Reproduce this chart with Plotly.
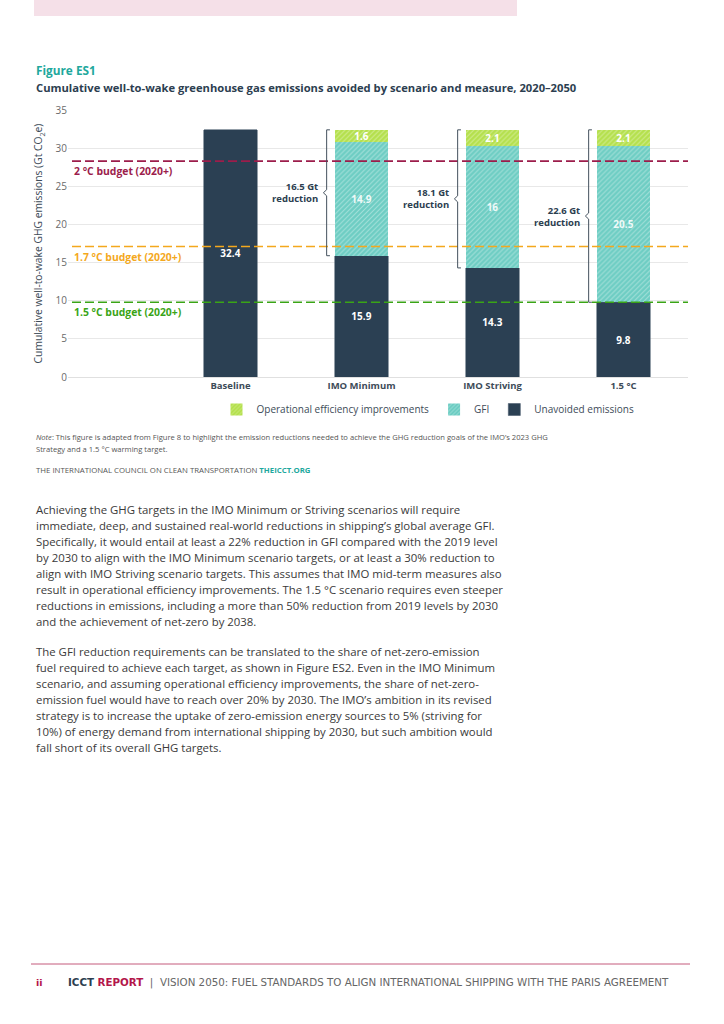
import plotly.graph_objects as go

# ---------------- data ----------------
categories = ["Baseline", "IMO Minimum", "IMO Striving", "1.5 °C"]
unavoided = [32.4, 15.9, 14.3, 9.8]
# GFI and operational-efficiency reductions exist only for the three scenarios
scenario_idx = [1, 2, 3]
gfi = [14.9, 16.0, 20.5]
op_eff = [1.6, 2.1, 2.1]
budget_names = ["2 °C budget (2020+)", "1.7 °C budget (2020+)", "1.5 °C budget (2020+)"]
budget_values = [28.3, 17.1, 9.8]
budget_colors = ["#9c1d4b", "#f4a81d", "#3aa416"]
y_ticks = [0, 5, 10, 15, 20, 25, 30, 35]

para1 = [
    "Achieving the GHG targets in the IMO Minimum or Striving scenarios will require",
    "immediate, deep, and sustained real-world reductions in shipping’s global average GFI.",
    "Specifically, it would entail at least a 22% reduction in GFI compared with the 2019 level",
    "by 2030 to align with the IMO Minimum scenario targets, or at least a 30% reduction to",
    "align with IMO Striving scenario targets. This assumes that IMO mid-term measures also",
    "result in operational efficiency improvements. The 1.5 °C scenario requires even steeper",
    "reductions in emissions, including a more than 50% reduction from 2019 levels by 2030",
    "and the achievement of net-zero by 2038.",
]
para2 = [
    "The GFI reduction requirements can be translated to the share of net-zero-emission",
    "fuel required to achieve each target, as shown in Figure ES2. Even in the IMO Minimum",
    "scenario, and assuming operational efficiency improvements, the share of net-zero-",
    "emission fuel would have to reach over 20% by 2030. The IMO’s ambition in its revised",
    "strategy is to increase the uptake of zero-emission energy sources to 5% (striving for",
    "10%) of energy demand from international shipping by 2030, but such ambition would",
    "fall short of its overall GHG targets.",
]

# ---------------- layout helpers ----------------
W, H = 724, 1024
FONT = "Open Sans"
DARK = "#2c3e50"
TEXT = "#3a3a3a"
PX_L, PX_R, PX_T, PX_B = 68, 688, 110, 377
xpos = list(range(len(categories)))
BAR_W = 0.405


def px(x):
    return x / W


def py(y):
    return 1 - y / H


fig = go.Figure()
fig.add_trace(go.Bar(
    x=xpos, y=unavoided, name="Unavoided emissions", width=BAR_W,
    marker=dict(color="#2b4053", line=dict(color="#4b5d6e", width=0.6)),
    text=[f"{v:g}" for v in unavoided], textposition="inside", insidetextanchor="middle",
    constraintext="none",
    textfont=dict(color="white", size=10, family=FONT, weight="bold"),
    hoverinfo="skip",
))
fig.add_trace(go.Bar(
    x=scenario_idx, y=gfi, name="GFI", width=BAR_W,
    marker=dict(color="#6dcdc3", line=dict(width=0),
                pattern=dict(shape="/", fgcolor="rgba(255,255,255,0.75)", size=3.5,
                             solidity=0.3, fillmode="overlay")),
    text=[f"{v:g}" for v in gfi], textposition="inside", insidetextanchor="middle",
    constraintext="none",
    textfont=dict(color="rgba(255,255,255,0.9)", size=10, family=FONT, weight="bold"),
    hoverinfo="skip",
))
fig.add_trace(go.Bar(
    x=scenario_idx, y=op_eff, name="Operational efficiency improvements", width=BAR_W,
    marker=dict(color="#b4e04c", line=dict(width=0),
                pattern=dict(shape="/", fgcolor="rgba(255,255,255,0.75)", size=3.5,
                             solidity=0.3, fillmode="overlay")),
    text=[f"{v:g}" for v in op_eff], textposition="inside", insidetextanchor="middle",
    constraintext="none",
    textfont=dict(color="white", size=10, family=FONT, weight="bold"),
    hoverinfo="skip",
))

shapes = []
annotations = []

# budget lines + labels
x_line0 = (72 - PX_L) / (PX_R - PX_L)
for name, val, col in zip(budget_names, budget_values, budget_colors):
    shapes.append(dict(type="line", xref="x domain", yref="y", x0=x_line0, x1=1,
                       y0=val, y1=val, line=dict(color=col, width=1.6, dash="9px,4px"),
                       layer="above"))
    annotations.append(dict(xref="x domain", yref="y", x=x_line0, y=val, yshift=-10,
                            xanchor="left", yanchor="middle", showarrow=False,
                            text=f"<b>{name}</b>", font=dict(color=col, size=10.4, family=FONT)))

# brackets
bx_off = 0.266
tick = 0.025
notch = 0.4
for j, i in enumerate(scenario_idx):
    top = unavoided[i] + gfi[j] + op_eff[j]
    bot = unavoided[i]
    mid = (top + bot) / 2
    x = xpos[i] - bx_off
    path = (f"M {x + tick},{top} L {x},{top} L {x},{mid + notch} L {x - tick},{mid} "
            f"L {x},{mid - notch} L {x},{bot} L {x + tick},{bot}")
    shapes.append(dict(type="path", xref="x", yref="y", path=path,
                       line=dict(color="#44515e", width=1)))
    red = round(gfi[j] + op_eff[j], 1)
    annotations.append(dict(xref="x", yref="y", x=x - 0.05, y=mid, xanchor="right",
                            yanchor="middle", showarrow=False, align="right",
                            text=f"<b>{red:g} Gt<br>reduction</b>",
                            font=dict(color=DARK, size=9.5, family=FONT)))

# page elements
shapes.append(dict(type="rect", xref="paper", yref="paper", x0=px(34), x1=px(517),
                   y0=py(16), y1=py(0), fillcolor="#f5e0e8", line=dict(width=0), layer="below"))
shapes.append(dict(type="line", xref="paper", yref="paper", x0=px(31), x1=px(690),
                   y0=py(964), y1=py(964), line=dict(color="#c45a7c", width=1)))


def txt(x, y, s, size, color, anchor="left", family=FONT):
    annotations.append(dict(xref="paper", yref="paper", x=px(x), y=py(y), xanchor=anchor,
                            yanchor="middle", showarrow=False, text=s, align="left",
                            font=dict(size=size, color=color, family=family)))


txt(34, 70, "<b>Figure ES1</b>", 11.8, "#1ea89d")
txt(34, 87, "<b>Cumulative well-to-wake greenhouse gas emissions avoided by scenario and measure, 2020–2050</b>",
    11.2, DARK)
txt(34, 437, "<i>Note</i>: This figure is adapted from Figure 8 to highlight the emission reductions needed to achieve the GHG reduction goals of the IMO’s 2023 GHG",
    7.6, "#555")
txt(34, 449, "Strategy and a 1.5 °C warming target.", 7.6, "#555")
txt(34, 470, "THE INTERNATIONAL COUNCIL ON CLEAN TRANSPORTATION <b><span style='color:#1ea89d'>THEICCT.ORG</span></b>",
    7.8, "#555")

for k, line in enumerate(para1):
    txt(34, 509 + 16 * k, line, 11.4, TEXT)
for k, line in enumerate(para2):
    txt(34, 651 + 16 * k, line, 11.4, TEXT)

txt(34, 982, "<b>ii</b>", 9.5, "#b3164a", family="DejaVu Sans")
txt(66, 982, "<b><span style='color:#2c3e50'>ICCT</span> <span style='color:#b3164a'>REPORT</span></b>  |  VISION 2050: FUEL STANDARDS TO ALIGN INTERNATIONAL SHIPPING WITH THE PARIS AGREEMENT",
    10.3, "#666", family="DejaVu Sans")

fig.update_layout(
    width=W, height=H, barmode="stack",
    margin=dict(l=0, r=0, t=0, b=0, pad=0),
    paper_bgcolor="white", plot_bgcolor="white",
    font=dict(family=FONT, color=TEXT),
    shapes=shapes, annotations=annotations,
    showlegend=True,
    legend=dict(orientation="h", x=px(428), y=py(409.5), xanchor="center", yanchor="middle",
                traceorder="reversed", font=dict(size=10, color="#3d4b58", family=FONT),
                itemwidth=30, bgcolor="rgba(0,0,0,0)"),
    xaxis=dict(domain=[px(PX_L), px(PX_R)], range=[(PX_L - 230.5) / 131, (PX_R - 230.5) / 131],
               tickvals=xpos, ticktext=[f"<b>{c}</b>" for c in categories],
               tickfont=dict(size=9.5, color="#3d4b58"), showgrid=False,
               showline=True, linecolor="#e0e0e0", linewidth=1, ticks="", automargin=False,
               fixedrange=True),
    yaxis=dict(domain=[py(PX_B), py(PX_T)], range=[0, 35], tickvals=y_ticks,
               gridcolor="#e8e8e8", gridwidth=1, zeroline=False, showline=False,
               tickfont=dict(size=10, color="#6a6a6a"), ticks="", automargin=False,
               title=dict(text="Cumulative well-to-wake GHG emissions (Gt CO<sub>2</sub>e)",
                          font=dict(size=10.3, color="#3d4b58"), standoff=10),
               fixedrange=True),
)

fig.write_html("out.html", config={"displayModeBar": False},
               post_script="document.body.style.margin='0';")
